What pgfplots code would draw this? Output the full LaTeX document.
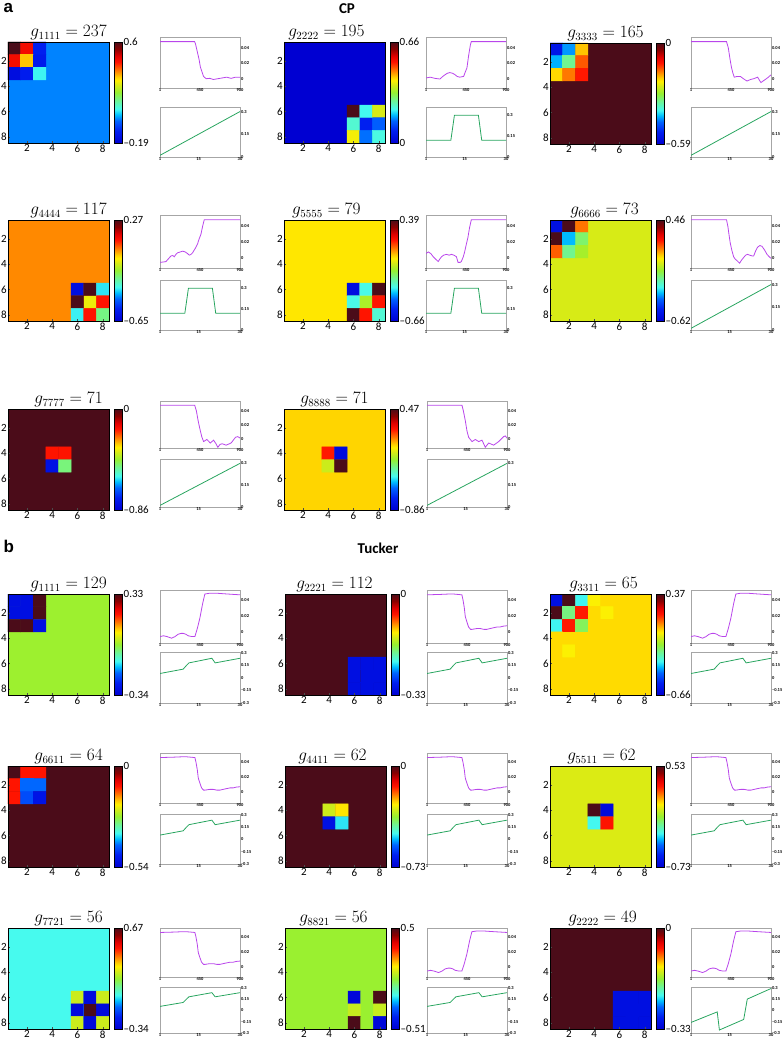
\documentclass[border=0pt]{standalone}
\usepackage{fontspec}
\setmainfont{Carlito}
\newfontfamily\arialf{Liberation Sans}
\usepackage{pgfplots}
\usepackage{pgfplotstable}
\pgfplotsset{compat=1.18}
\definecolor{lpurple}{RGB}{185,70,235}
\definecolor{lgreen}{RGB}{40,165,95}
\newcommand\tf{\fontsize{4.5}{5}\selectfont\bfseries}
\newcommand\mf{\fontsize{11}{12}\selectfont}

% ---------- line data ----------
\pgfplotstableread{
x y
1 0.048
390 0.048
400 0.045
420 0.035
440 0.025
455 0.015
470 0.010
490 0.003
520 0.000
560 0.0005
600 -0.001
650 0.000
700 0.001
750 0.002
800 0.0005
850 0.002
900 0.002
}\cpA
\pgfplotstableread{
x y
1 0.001
50 0.002
100 0.0005
157 -0.0004
190 0.003
213 0.005
240 0.007
268 0.008
300 0.007
324 0.0055
350 0.003
380 0.002
424 0.003
440 0.008
461 0.014
480 0.030
500 0.044
510 0.048
900 0.048
}\cpB
\pgfplotstableread{
x y
1 0.048
400 0.048
420 0.040
440 0.025
455 0.015
470 0.008
487 0.002
520 0.003
555 0.003
590 0.000
630 -0.003
670 -0.001
705 0.000
750 0.002
770 -0.002
787 -0.005
810 -0.003
836 -0.001
870 0.002
900 0.005
}\cpC
\pgfplotstableread{
x y
1 -0.005
40 -0.0045
68 -0.004
100 0.000
124 0.003
145 0.0035
161 0.002
180 0.005
199 0.007
230 0.008
255 0.009
285 0.008
310 0.006
330 0.004
350 0.005
367 0.007
395 0.012
423 0.018
440 0.024
461 0.030
480 0.040
498 0.048
900 0.048
}\cpD
\pgfplotstableread{
x y
1 0.006
27 0.008
55 0.006
82 0.002
110 -0.001
138 -0.004
155 -0.001
175 0.002
200 0.004
231 0.005
260 0.004
287 0.005
315 0.004
343 0.002
361 -0.005
385 -0.005
398 -0.004
420 0.002
435 0.008
455 0.018
472 0.026
490 0.038
510 0.048
900 0.048
}\cpE
\pgfplotstableread{
x y
1 0.048
400 0.048
415 0.040
430 0.028
442 0.019
460 0.010
480 0.002
498 -0.001
520 -0.003
547 -0.006
570 -0.002
592 0.001
615 0.004
637 0.005
660 0.004
690 0.003
705 0.003
730 0.010
750 0.014
775 0.016
799 0.015
830 0.010
855 0.005
880 0.002
900 0.000
}\cpF
\pgfplotstableread{
x y
1 0.048
391 0.048
410 0.040
430 0.026
447 0.016
470 0.004
491 -0.003
528 0.000
566 -0.005
603 -0.001
630 -0.006
651 -0.011
675 -0.007
700 -0.006
744 -0.008
800 -0.005
849 0.003
875 0.004
900 0.002
}\cpG
\pgfplotstableread{
x y
1 0.048
394 0.048
410 0.040
432 0.026
450 0.012
469 0.003
507 -0.003
544 0.000
582 -0.003
619 -0.001
656 -0.011
694 -0.005
750 -0.008
806 -0.003
862 0.004
880 0.005
900 0.002
}\cpH
\pgfplotstableread{
x y
1 0.011
30 0.300
}\cpLin
\pgfplotstableread{
x y
1 0.12
10 0.12
11.3 0.30
20 0.30
21.2 0.12
30 0.12
}\cpPlat
\pgfplotstableread{
x y
1 -0.006
40 -0.005
80 -0.006
131 -0.008
170 -0.006
206 -0.003
240 -0.002
262 -0.002
290 -0.003
318 -0.005
360 -0.006
393 -0.006
420 0.004
449 0.017
480 0.035
505 0.047
560 0.048
636 0.048
760 0.047
900 0.046
}\tRise
\pgfplotstableread{
x y
1 0.046
150 0.0465
250 0.047
300 0.047
393 0.046
405 0.040
420 0.030
431 0.019
450 0.012
468 0.006
490 0.003
506 0.003
560 0.004
600 0.004
640 0.003
674 0.003
710 0.004
749 0.005
790 0.006
824 0.006
860 0.007
900 0.0075
}\tDrop
\pgfplotstableread{
x y
1 0.053
9.4 0.105
10.6 0.150
11.5 0.180
19.8 0.235
21 0.180
30 0.235
}\tSaw
\pgfplotstableread{
x y
1 -0.16
10.5 -0.02
11.3 -0.26
20.1 -0.12
21.4 0.15
30 0.29
}\tSawB

\pgfplotsset{
 colormap={hmjet}{
  rgb255(0pt)=(0,0,210);
  rgb255(24pt)=(0,30,240);
  rgb255(44pt)=(0,100,255);
  rgb255(56pt)=(0,190,255);
  rgb255(67pt)=(70,250,240);
  rgb255(84pt)=(110,245,150);
  rgb255(100pt)=(150,240,50);
  rgb255(116pt)=(220,235,20);
  rgb255(124pt)=(255,240,0);
  rgb255(130pt)=(255,210,0);
  rgb255(144pt)=(255,120,0);
  rgb255(160pt)=(255,20,0);
  rgb255(172pt)=(225,0,0);
  rgb255(186pt)=(140,0,0);
  rgb255(200pt)=(75,12,25)
 },
 every axis/.append style={/pgf/number format/assume math mode=true},
 every axis title shift=0pt,
 hm/.style n args={4}{
  scale only axis, width=101pt, height=101pt,
  xmin=0.5, xmax=8.5, ymin=0.5, ymax=8.5, y dir=reverse,
  enlargelimits=false, axis on top,
  xtick={2,4,6,8}, ytick={2,4,6,8}, tick pos=left,
  tick align=inside, major tick length=2pt,
  tick style={black!70, line width=0.3pt},
  tick label style={font=\mf},
  xticklabel style={inner sep=1.5pt},
  yticklabel style={inner sep=1pt},
  axis line style={black, line width=0.5pt},
  colormap name=hmjet,
  point meta min=#1, point meta max=#2,
  colorbar,
  colorbar style={
   at={(parent axis.north east)}, anchor=north west, xshift=-3pt,
   scale only axis, width=8pt, height=101pt,
   ytick={#1,#2}, yticklabels={#3,#4},
   major tick length=0pt,
   yticklabel style={font=\mf, inner sep=1pt},
   axis line style={black, line width=0.4pt},
  },
  title style={font=\fontsize{16}{18}\selectfont, at={(0.6,1)}, anchor=south, inner sep=1.5pt},
 },
 tx/.style={title style={at={(#1,1)}}},
 bgp/.style={patch, patch type=rectangle, shader=flat, point meta=explicit},
 blk/.style={matrix plot*, mesh/cols=#1, point meta=explicit},
 lbase/.style={scale only axis, width=80pt,
  axis line style={black!35, line width=0.4pt},
  tick style={draw=none},
  tick label style={font=\tf, inner sep=0.8pt},
  yticklabel pos=right, scaled ticks=false},
 ltop/.style={lbase, height=#1, xmin=1, xmax=900, ymin=-0.012, ymax=0.054,
  xtick={1,450,900}, ytick={0,0.02,0.04}, yticklabels={0,0.02,0.04}},
 ttop/.style={lbase, height=#1, xmin=1, xmax=900, ymin=-0.014, ymax=0.052,
  xtick={1,450,900}, ytick={0,0.02,0.04}, yticklabels={0,0.02,0.04}},
 llin/.style={lbase, height=#1, xmin=1, xmax=30, ymin=0, ymax=0.33,
  xtick={1,15,30}, ytick={0,0.15,0.3}, yticklabels={0,0.15,0.3}},
 lplat/.style={lbase, height=#1, xmin=1, xmax=30, ymin=0, ymax=0.36,
  xtick={1,15,30}, ytick={0,0.15,0.3}, yticklabels={0,0.15,0.3}},
 tbot/.style={lbase, height=#1, xmin=1, xmax=30, ymin=-0.3, ymax=0.31,
  xtick={1,15,30}, ytick={-0.3,-0.15,0,0.15,0.3}, yticklabels={--0.3,--0.15,0,0.15,0.3}},
 pl/.style={lpurple, line width=0.8pt},
 gl/.style={lgreen, line width=0.8pt},
}

\begin{document}
\begin{tikzpicture}
\path[use as bounding box] (0,0) rectangle (783pt,-1043pt);

\node[anchor=base west, inner sep=0pt, font=\arialf\bfseries\fontsize{17}{17}\selectfont] at (3.5pt,-13pt) {a};
\node[anchor=base, inner sep=0pt, font=\bfseries\fontsize{15}{15}\selectfont] at (347pt,-14pt) {CP};
\node[anchor=base west, inner sep=0pt, font=\arialf\bfseries\fontsize{17}{17}\selectfont] at (3.5pt,-552pt) {b};
\node[anchor=base, inner sep=0pt, font=\bfseries\fontsize{15}{15}\selectfont] at (378pt,-553pt) {Tucker};

% ================= CP row 1 =================
\begin{axis}[hm={-0.19}{0.6}{--0.19}{0.6}, at={(8pt,-42pt)}, anchor=north west, title={$g_{1111} = 237$}]
\addplot[bgp] coordinates {(0.5,0.5)[0] (8.5,0.5)[0] (8.5,8.5)[0] (0.5,8.5)[0]};
\addplot[blk=3] table[meta=c, row sep=\\]{x y c\\ 1 1 0.6\\ 2 1 0.46\\ 3 1 -0.095\\ 1 2 0.46\\ 2 2 0.33\\ 3 2 -0.11\\ 1 3 -0.15\\ 2 3 -0.1\\ 3 3 0.07\\};
\end{axis}
\begin{axis}[ltop=51pt, at={(160pt,-37pt)}, anchor=north west]
\addplot[pl] table {\cpA};
\end{axis}
\begin{axis}[llin=50pt, at={(160pt,-107pt)}, anchor=north west]
\addplot[gl] table {\cpLin};
\end{axis}

\begin{axis}[hm={0}{0.66}{0}{0.66}, tx=0.42, at={(284pt,-42pt)}, anchor=north west, title={$g_{2222} = 195$}]
\addplot[bgp] coordinates {(0.5,0.5)[0] (8.5,0.5)[0] (8.5,8.5)[0] (0.5,8.5)[0]};
\addplot[blk=3] table[meta=c, row sep=\\]{x y c\\ 6 6 0.66\\ 7 6 0.22\\ 8 6 0.38\\ 6 7 0.24\\ 7 7 0.08\\ 8 7 0.14\\ 6 8 0.40\\ 7 8 0.15\\ 8 8 0.23\\};
\end{axis}
\begin{axis}[ltop=51pt, at={(426pt,-37pt)}, anchor=north west]
\addplot[pl] table {\cpB};
\end{axis}
\begin{axis}[lplat=50pt, at={(426pt,-107pt)}, anchor=north west]
\addplot[gl] table {\cpPlat};
\end{axis}

\begin{axis}[hm={-0.59}{0}{--0.59}{0}, tx=0.55, at={(550pt,-43pt)}, anchor=north west, title={$g_{3333} = 165$}]
\addplot[bgp] coordinates {(0.5,0.5)[0] (8.5,0.5)[0] (8.5,8.5)[0] (0.5,8.5)[0]};
\addplot[blk=3] table[meta=c, row sep=\\]{x y c\\ 1 1 -0.54\\ 2 1 -0.44\\ 3 1 -0.2\\ 1 2 -0.43\\ 2 2 -0.34\\ 3 2 -0.15\\ 1 3 -0.21\\ 2 3 -0.165\\ 3 3 -0.12\\};
\end{axis}
\begin{axis}[ltop=51pt, at={(691pt,-37pt)}, anchor=north west]
\addplot[pl] table {\cpC};
\end{axis}
\begin{axis}[llin=50pt, at={(691pt,-107pt)}, anchor=north west]
\addplot[gl] table {\cpLin};
\end{axis}

% ================= CP row 2 =================
\begin{axis}[hm={-0.65}{0.27}{--0.65}{0.27}, at={(8pt,-220pt)}, anchor=north west, title={$g_{4444} = 117$}]
\addplot[bgp] coordinates {(0.5,0.5)[0] (8.5,0.5)[0] (8.5,8.5)[0] (0.5,8.5)[0]};
\addplot[blk=3] table[meta=c, row sep=\\]{x y c\\ 6 6 -0.6\\ 7 6 0.27\\ 8 6 -0.36\\ 6 7 0.27\\ 7 7 -0.098\\ 8 7 0.086\\ 6 8 -0.35\\ 7 8 0.086\\ 8 8 -0.25\\};
\end{axis}
\begin{axis}[ltop=53pt, at={(160pt,-215pt)}, anchor=north west]
\addplot[pl] table {\cpD};
\end{axis}
\begin{axis}[lplat=50pt, at={(160pt,-280pt)}, anchor=north west]
\addplot[gl] table {\cpPlat};
\end{axis}

\begin{axis}[hm={-0.66}{0.39}{--0.66}{0.39}, tx=0.42, at={(284pt,-220pt)}, anchor=north west, title={$g_{5555} = 79$}]
\addplot[bgp] coordinates {(0.5,0.5)[0] (8.5,0.5)[0] (8.5,8.5)[0] (0.5,8.5)[0]};
\addplot[blk=3] table[meta=c, row sep=\\]{x y c\\ 6 6 -0.6\\ 7 6 -0.30\\ 8 6 0.39\\ 6 7 -0.30\\ 7 7 -0.11\\ 8 7 0.18\\ 6 8 0.39\\ 7 8 0.18\\ 8 8 -0.28\\};
\end{axis}
\begin{axis}[ltop=53pt, at={(426pt,-215pt)}, anchor=north west]
\addplot[pl] table {\cpE};
\end{axis}
\begin{axis}[lplat=50pt, at={(426pt,-280pt)}, anchor=north west]
\addplot[gl] table {\cpPlat};
\end{axis}

\begin{axis}[hm={-0.62}{0.46}{--0.62}{0.46}, tx=0.54, at={(550pt,-220pt)}, anchor=north west, title={$g_{6666} = 73$}]
\addplot[bgp] coordinates {(0.5,0.5)[0] (8.5,0.5)[0] (8.5,8.5)[0] (0.5,8.5)[0]};
\addplot[blk=3] table[meta=c, row sep=\\]{x y c\\ 1 1 -0.55\\ 2 1 0.46\\ 3 1 0.16\\ 1 2 0.46\\ 2 2 -0.32\\ 3 2 -0.13\\ 1 3 0.18\\ 2 3 -0.16\\ 3 3 -0.06\\};
\end{axis}
\begin{axis}[ltop=53pt, at={(691pt,-215pt)}, anchor=north west]
\addplot[pl] table {\cpF};
\end{axis}
\begin{axis}[llin=50pt, at={(691pt,-280pt)}, anchor=north west]
\addplot[gl] table {\cpLin};
\end{axis}

% ================= CP row 3 =================
\begin{axis}[hm={-0.86}{0}{--0.86}{0}, at={(8pt,-409pt)}, anchor=north west, title={$g_{7777} = 71$}]
\addplot[bgp] coordinates {(0.5,0.5)[0] (8.5,0.5)[0] (8.5,8.5)[0] (0.5,8.5)[0]};
\addplot[blk=2] table[meta=c, row sep=\\]{x y c\\ 4 4 -0.17\\ 5 4 -0.17\\ 4 5 -0.8\\ 5 5 -0.48\\};
\end{axis}
\begin{axis}[ltop=47pt, at={(160pt,-401pt)}, anchor=north west]
\addplot[pl] table {\cpG};
\end{axis}
\begin{axis}[llin=48pt, at={(160pt,-459pt)}, anchor=north west]
\addplot[gl] table {\cpLin};
\end{axis}

\begin{axis}[hm={-0.86}{0.47}{--0.86}{0.47}, tx=0.5, at={(284pt,-409pt)}, anchor=north west, title={$g_{8888} = 71$}]
\addplot[bgp] coordinates {(0.5,0.5)[0] (8.5,0.5)[0] (8.5,8.5)[0] (0.5,8.5)[0]};
\addplot[blk=2] table[meta=c, row sep=\\]{x y c\\ 4 4 0.2\\ 5 4 -0.8\\ 4 5 -0.115\\ 5 5 0.47\\};
\end{axis}
\begin{axis}[ltop=47pt, at={(427pt,-401pt)}, anchor=north west]
\addplot[pl] table {\cpH};
\end{axis}
\begin{axis}[llin=48pt, at={(427pt,-459pt)}, anchor=north west]
\addplot[gl] table {\cpLin};
\end{axis}

% ================= Tucker row 1 =================
\begin{axis}[hm={-0.34}{0.33}{--0.34}{0.33}, at={(8pt,-594pt)}, anchor=north west, title={$g_{1111} = 129$}]
\addplot[bgp] coordinates {(0.5,0.5)[0] (8.5,0.5)[0] (8.5,8.5)[0] (0.5,8.5)[0]};
\addplot[blk=3] table[meta=c, row sep=\\]{x y c\\ 1 1 -0.3\\ 2 1 -0.3\\ 3 1 0.33\\ 1 2 -0.3\\ 2 2 -0.3\\ 3 2 0.33\\ 1 3 0.33\\ 2 3 0.33\\ 3 3 -0.3\\};
\end{axis}
\begin{axis}[ttop=53pt, at={(160pt,-590pt)}, anchor=north west]
\addplot[pl] table {\tRise};
\end{axis}
\begin{axis}[tbot=51pt, at={(160pt,-652pt)}, anchor=north west]
\addplot[gl] table {\tSaw};
\end{axis}

\begin{axis}[hm={-0.33}{0}{--0.33}{0}, tx=0.49, at={(285pt,-594pt)}, anchor=north west, title={$g_{2221} = 112$}]
\addplot[bgp] coordinates {(0.5,0.5)[0] (8.5,0.5)[0] (8.5,8.5)[0] (0.5,8.5)[0]};
\addplot[blk=3] table[meta=c, row sep=\\]{x y c\\ 6 6 -0.31\\ 7 6 -0.31\\ 8 6 -0.31\\ 6 7 -0.31\\ 7 7 -0.31\\ 8 7 -0.31\\ 6 8 -0.31\\ 7 8 -0.31\\ 8 8 -0.31\\};
\end{axis}
\begin{axis}[ttop=53pt, at={(427pt,-590pt)}, anchor=north west]
\addplot[pl] table {\tDrop};
\end{axis}
\begin{axis}[tbot=51pt, at={(427pt,-652pt)}, anchor=north west]
\addplot[gl] table {\tSaw};
\end{axis}

\begin{axis}[hm={-0.66}{0.37}{--0.66}{0.37}, tx=0.53, at={(550pt,-594pt)}, anchor=north west, title={$g_{3311} = 65$}]
\addplot[bgp] coordinates {(0.5,0.5)[0] (8.5,0.5)[0] (8.5,8.5)[0] (0.5,8.5)[0]};
\addplot[blk=5] table[meta=c, row sep=\\]{x y c\\ 1 1 -0.6\\ 2 1 0.37\\ 3 1 -0.32\\ 4 1 -0.025\\ 5 1 0\\ 1 2 0.37\\ 2 2 -0.21\\ 3 2 0.16\\ 4 2 0\\ 5 2 -0.025\\ 1 3 -0.32\\ 2 3 0.16\\ 3 3 -0.18\\ 4 3 0\\ 5 3 0\\ 1 4 0\\ 2 4 0\\ 3 4 0\\ 4 4 0\\ 5 4 0\\ 1 5 0\\ 2 5 -0.025\\ 3 5 0\\ 4 5 0\\ 5 5 0\\};
\end{axis}
\begin{axis}[ttop=53pt, at={(691pt,-590pt)}, anchor=north west]
\addplot[pl] table {\tRise};
\end{axis}
\begin{axis}[tbot=51pt, at={(691pt,-652pt)}, anchor=north west]
\addplot[gl] table {\tSaw};
\end{axis}

% ================= Tucker row 2 =================
\begin{axis}[hm={-0.54}{0}{--0.54}{0}, at={(8pt,-766pt)}, anchor=north west, title={$g_{6611} = 64$}]
\addplot[bgp] coordinates {(0.5,0.5)[0] (8.5,0.5)[0] (8.5,8.5)[0] (0.5,8.5)[0]};
\addplot[blk=3] table[meta=c, row sep=\\]{x y c\\ 1 1 0\\ 2 1 -0.108\\ 3 1 -0.108\\ 1 2 -0.108\\ 2 2 -0.42\\ 3 2 -0.42\\ 1 3 -0.108\\ 2 3 -0.44\\ 3 3 -0.5\\};
\end{axis}
\begin{axis}[ttop=50pt, at={(160pt,-753pt)}, anchor=north west]
\addplot[pl] table {\tDrop};
\end{axis}
\begin{axis}[tbot=50pt, at={(160pt,-814pt)}, anchor=north west]
\addplot[gl] table {\tSaw};
\end{axis}

\begin{axis}[hm={-0.73}{0}{--0.73}{0}, tx=0.47, at={(285pt,-766pt)}, anchor=north west, title={$g_{4411} = 62$}]
\addplot[bgp] coordinates {(0.5,0.5)[0] (8.5,0.5)[0] (8.5,8.5)[0] (0.5,8.5)[0]};
\addplot[blk=2] table[meta=c, row sep=\\]{x y c\\ 4 4 -0.32\\ 5 4 -0.27\\ 4 5 -0.68\\ 5 5 -0.5\\};
\end{axis}
\begin{axis}[ttop=50pt, at={(427pt,-753pt)}, anchor=north west]
\addplot[pl] table {\tDrop};
\end{axis}
\begin{axis}[tbot=50pt, at={(427pt,-814pt)}, anchor=north west]
\addplot[gl] table {\tSaw};
\end{axis}

\begin{axis}[hm={-0.73}{0.53}{--0.73}{0.53}, tx=0.51, at={(550pt,-766pt)}, anchor=north west, title={$g_{5511} = 62$}]
\addplot[bgp] coordinates {(0.5,0.5)[0] (8.5,0.5)[0] (8.5,8.5)[0] (0.5,8.5)[0]};
\addplot[blk=2] table[meta=c, row sep=\\]{x y c\\ 4 4 0.53\\ 5 4 -0.68\\ 4 5 -0.31\\ 5 5 0.28\\};
\end{axis}
\begin{axis}[ttop=50pt, at={(691pt,-753pt)}, anchor=north west]
\addplot[pl] table {\tDrop};
\end{axis}
\begin{axis}[tbot=50pt, at={(691pt,-814pt)}, anchor=north west]
\addplot[gl] table {\tSaw};
\end{axis}

% ================= Tucker row 3 =================
\begin{axis}[hm={-0.34}{0.67}{--0.34}{0.67}, at={(8pt,-928pt)}, anchor=north west, title={$g_{7721} = 56$}]
\addplot[bgp] coordinates {(0.5,0.5)[0] (8.5,0.5)[0] (8.5,8.5)[0] (0.5,8.5)[0]};
\addplot[blk=3] table[meta=c, row sep=\\]{x y c\\ 6 6 0.225\\ 7 6 -0.3\\ 8 6 0.225\\ 6 7 -0.3\\ 7 7 0.67\\ 8 7 -0.3\\ 6 8 0.225\\ 7 8 -0.3\\ 8 8 0.225\\};
\end{axis}
\begin{axis}[ttop=49pt, at={(160pt,-928pt)}, anchor=north west]
\addplot[pl] table {\tDrop};
\end{axis}
\begin{axis}[tbot=46pt, at={(160pt,-987pt)}, anchor=north west]
\addplot[gl] table {\tSaw};
\end{axis}

\begin{axis}[hm={-0.51}{0.5}{--0.51}{0.5}, tx=0.48, at={(285pt,-928pt)}, anchor=north west, title={$g_{8821} = 56$}]
\addplot[bgp] coordinates {(0.5,0.5)[0] (8.5,0.5)[0] (8.5,8.5)[0] (0.5,8.5)[0]};
\addplot[blk=3] table[meta=c, row sep=\\]{x y c\\ 6 6 -0.48\\ 7 6 0\\ 8 6 0.5\\ 6 7 0.05\\ 7 7 0\\ 8 7 0.05\\ 6 8 0.5\\ 7 8 0\\ 8 8 -0.48\\};
\end{axis}
\begin{axis}[ttop=49pt, at={(427pt,-928pt)}, anchor=north west]
\addplot[pl] table {\tRise};
\end{axis}
\begin{axis}[tbot=46pt, at={(427pt,-987pt)}, anchor=north west]
\addplot[gl] table {\tSaw};
\end{axis}

\begin{axis}[hm={-0.33}{0}{--0.33}{0}, tx=0.52, at={(550pt,-928pt)}, anchor=north west, title={$g_{2222} = 49$}]
\addplot[bgp] coordinates {(0.5,0.5)[0] (8.5,0.5)[0] (8.5,8.5)[0] (0.5,8.5)[0]};
\addplot[blk=3] table[meta=c, row sep=\\]{x y c\\ 6 6 -0.31\\ 7 6 -0.31\\ 8 6 -0.31\\ 6 7 -0.31\\ 7 7 -0.31\\ 8 7 -0.31\\ 6 8 -0.31\\ 7 8 -0.31\\ 8 8 -0.31\\};
\end{axis}
\begin{axis}[ttop=49pt, at={(691pt,-928pt)}, anchor=north west]
\addplot[pl] table {\tRise};
\end{axis}
\begin{axis}[tbot=46pt, at={(691pt,-987pt)}, anchor=north west]
\addplot[gl] table {\tSawB};
\end{axis}

\end{tikzpicture}
\end{document}
